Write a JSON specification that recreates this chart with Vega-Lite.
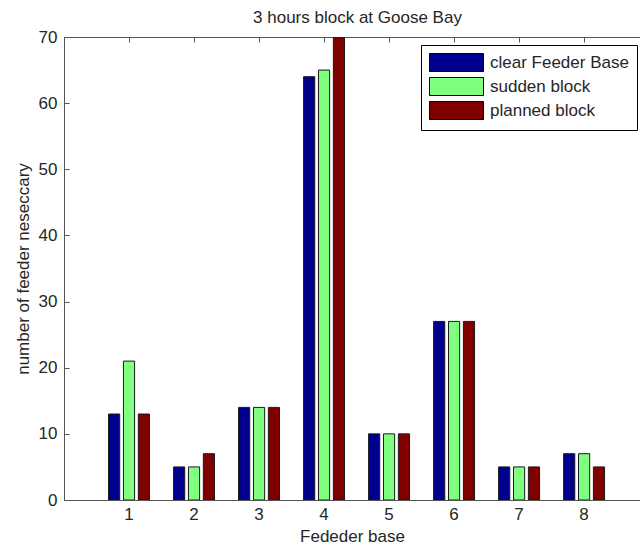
{
  "$schema": "https://vega.github.io/schema/vega-lite/v6.json",
  "width": 576,
  "height": 463,
  "autosize": {"type": "none"},
  "padding": {"left": 64, "top": 37, "right": 0, "bottom": 48},
  "background": "white",
  "data": {
    "values": [
      {"base": "1", "series": "clear Feeder Base", "value": 13},
      {"base": "1", "series": "sudden block", "value": 21},
      {"base": "1", "series": "planned block", "value": 13},
      {"base": "2", "series": "clear Feeder Base", "value": 5},
      {"base": "2", "series": "sudden block", "value": 5},
      {"base": "2", "series": "planned block", "value": 7},
      {"base": "3", "series": "clear Feeder Base", "value": 14},
      {"base": "3", "series": "sudden block", "value": 14},
      {"base": "3", "series": "planned block", "value": 14},
      {"base": "4", "series": "clear Feeder Base", "value": 64},
      {"base": "4", "series": "sudden block", "value": 65},
      {"base": "4", "series": "planned block", "value": 70},
      {"base": "5", "series": "clear Feeder Base", "value": 10},
      {"base": "5", "series": "sudden block", "value": 10},
      {"base": "5", "series": "planned block", "value": 10},
      {"base": "6", "series": "clear Feeder Base", "value": 27},
      {"base": "6", "series": "sudden block", "value": 27},
      {"base": "6", "series": "planned block", "value": 27},
      {"base": "7", "series": "clear Feeder Base", "value": 5},
      {"base": "7", "series": "sudden block", "value": 5},
      {"base": "7", "series": "planned block", "value": 5},
      {"base": "8", "series": "clear Feeder Base", "value": 7},
      {"base": "8", "series": "sudden block", "value": 7},
      {"base": "8", "series": "planned block", "value": 5}
    ]
  },
  "layer": [
    {
      "mark": {"type": "bar", "stroke": "#1a1a1a", "strokeWidth": 1, "clip": true},
      "encoding": {
        "x": {
          "field": "base",
          "type": "ordinal",
          "scale": {"paddingInner": 0.37, "paddingOuter": 0.615, "align": 0.557},
          "axis": {
            "orient": "bottom",
            "labelAngle": 0,
            "offset": -5,
            "tickSize": 5,
            "labelPadding": 6,
            "domain": false,
            "title": "Fededer base",
            "titlePadding": 6
          }
        },
        "xOffset": {
          "field": "series",
          "type": "nominal",
          "sort": ["clear Feeder Base", "sudden block", "planned block"],
          "scale": {"paddingInner": 0.25, "paddingOuter": 0}
        },
        "y": {
          "field": "value",
          "type": "quantitative",
          "scale": {"domain": [0, 70], "nice": false},
          "axis": {
            "values": [0, 10, 20, 30, 40, 50, 60, 70],
            "offset": -5,
            "tickSize": 5,
            "labelPadding": 7,
            "domain": false,
            "grid": false,
            "title": "number of feeder neseccary",
            "titlePadding": 6
          }
        },
        "color": {
          "field": "series",
          "type": "nominal",
          "scale": {
            "domain": ["clear Feeder Base", "sudden block", "planned block"],
            "range": ["#00008f", "#80ff80", "#800000"]
          },
          "legend": {
            "orient": "none",
            "legendX": 357,
            "legendY": 8,
            "title": null,
            "strokeColor": "#000000",
            "fillColor": "#ffffff",
            "padding": 8,
            "symbolType": "M-1,-1H5V1H-1Z",
            "symbolSize": 324,
            "symbolStrokeColor": "#000000",
            "symbolStrokeWidth": 1,
            "symbolOpacity": 1,
            "labelFontSize": 17,
            "labelFont": "Liberation Sans",
            "labelColor": "#262626",
            "labelOffset": 42,
            "rowPadding": 1
          }
        }
      }
    },
    {
      "mark": {"type": "bar", "opacity": 0},
      "encoding": {
        "x": {
          "field": "base",
          "type": "ordinal",
          "axis": {
            "orient": "top",
            "labels": false,
            "offset": -5,
            "tickSize": 5,
            "domain": false,
            "title": "3 hours block at Goose Bay",
            "titleX": 293,
            "titleAlign": "center",
            "titleAnchor": "middle",
            "titlePadding": 10
          }
        },
        "y": {"field": "value", "type": "quantitative"}
      }
    }
  ],
  "resolve": {"axis": {"x": "independent"}},
  "config": {
    "view": {"stroke": "#555555", "strokeWidth": 1},
    "axis": {
      "labelFont": "Liberation Sans",
      "titleFont": "Liberation Sans",
      "labelFontSize": 17,
      "titleFontSize": 17,
      "titleFontWeight": "normal",
      "labelColor": "#262626",
      "titleColor": "#262626",
      "tickColor": "#555555",
      "tickWidth": 1
    }
  }
}
